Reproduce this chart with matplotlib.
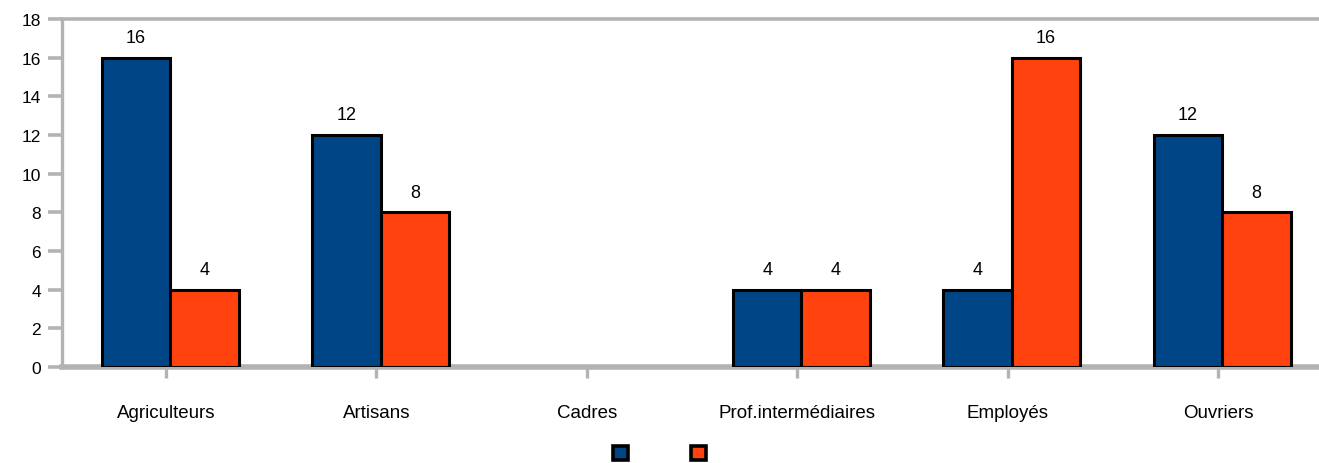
import matplotlib.pyplot as plt
import numpy as np
from matplotlib.patches import Patch

plt.rcParams['font.family'] = ['Liberation Sans', 'DejaVu Sans']

categories = ['Agriculteurs', 'Artisans', 'Cadres', 'Prof.intermédiaires', 'Employés', 'Ouvriers']
serie1 = [16, 12, 0, 4, 4, 12]
serie2 = [4, 8, 0, 4, 16, 8]

blue = '#004586'
orange = '#ff420e'
grey = '#b3b3b3'

fig = plt.figure(figsize=(13.19, 4.64), dpi=100)
ax = fig.add_axes([62 / 1319, 96 / 464, 1 - 62 / 1319, 348 / 464])

x = np.arange(len(categories))
w = 0.325
s1 = np.array(serie1)
s2 = np.array(serie2)
# no outline for empty bars
ax.bar(x - 0.305, s1, width=w, align='edge', color=blue, edgecolor='black',
       linewidth=np.where(s1 > 0, 2.2, 0), zorder=3)
ax.bar(x + 0.02, s2, width=w, align='edge', color=orange, edgecolor='black',
       linewidth=np.where(s2 > 0, 2.2, 0), zorder=3)

# value labels above bars
for xi, v in zip(x - 0.305 + w / 2, s1):
    if v > 0:
        ax.text(xi, v + 0.6, str(v), ha='center', va='bottom', fontsize=13)
for xi, v in zip(x + 0.02 + w / 2, s2):
    if v > 0:
        ax.text(xi, v + 0.6, str(v), ha='center', va='bottom', fontsize=13)

ax.set_xlim(-0.494, 5.48)
ax.set_ylim(0, 18)
ax.set_yticks(range(0, 19, 2))
ax.set_xticks(x)
ax.set_xticklabels(categories, fontsize=13.5)

ax.spines['right'].set_visible(False)
ax.spines['left'].set_color(grey)
ax.spines['left'].set_linewidth(2.4)
ax.spines['top'].set_color(grey)
ax.spines['top'].set_linewidth(2.6)
ax.spines['bottom'].set_color(grey)
ax.spines['bottom'].set_linewidth(4)
ax.spines['bottom'].set_zorder(2)

ax.tick_params(axis='y', length=10, width=2.6, color=grey, labelsize=12.5, pad=5)
ax.tick_params(axis='x', length=8, width=2.4, color=grey, pad=19, direction='out')

handles = [Patch(facecolor=blue, edgecolor='black', linewidth=2.6),
           Patch(facecolor=orange, edgecolor='black', linewidth=2.6)]
fig.legend(handles=handles, labels=['', ''], loc='lower center', ncol=2,
           frameon=False, handlelength=1.1, handleheight=1.1,
           columnspacing=4.5, handletextpad=0, bbox_to_anchor=(0.5, -0.022))

fig.savefig('out.png', dpi=100)
